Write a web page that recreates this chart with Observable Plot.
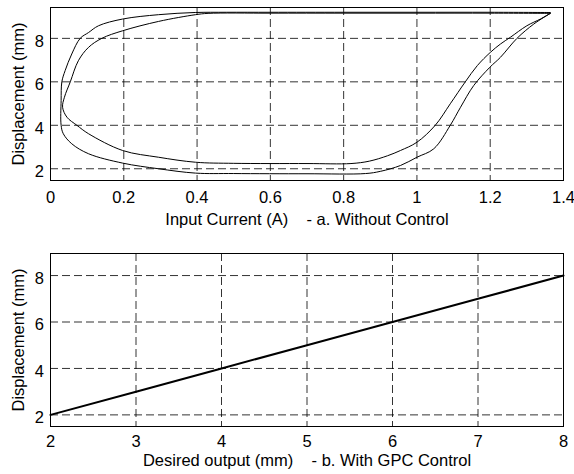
<!DOCTYPE html>
<html><head><meta charset="utf-8">
<script src="https://cdn.jsdelivr.net/npm/d3@7"></script>
<script src="https://cdn.jsdelivr.net/npm/@observablehq/plot@0.6"></script>
<style>
body{margin:0;background:#fff}
#chart svg{display:block}
</style>
</head><body><div id="chart"></div>
<script>
// (a) Without control: two hysteresis cycles
const outerX = [1.364, 1.2, 1.0, 0.8, 0.6, 0.48, 0.395, 0.295, 0.197, 0.131, 0.104, 0.081, 0.058, 0.04, 0.031, 0.029, 0.029, 0.035, 0.058, 0.104, 0.197, 0.295, 0.396, 0.5, 0.7, 0.86, 0.9, 0.955, 1.0, 1.046, 1.091, 1.119, 1.155, 1.199, 1.228, 1.273, 1.319, 1.364];
const outerY = [9.19, 9.2, 9.2, 9.2, 9.2, 9.2, 9.19, 9.09, 8.89, 8.58, 8.27, 8.0, 7.28, 6.52, 6.0, 5.14, 4.0, 3.61, 3.15, 2.69, 2.26, 2.0, 1.8, 1.78, 1.77, 1.78, 1.88, 2.15, 2.53, 2.92, 4.0, 4.83, 5.83, 6.67, 7.13, 8.0, 8.66, 9.15];
const innerX = [1.364, 1.2, 1.0, 0.8, 0.6, 0.43, 0.396, 0.295, 0.197, 0.14, 0.104, 0.076, 0.054, 0.038, 0.033, 0.045, 0.072, 0.104, 0.197, 0.295, 0.396, 0.5, 0.7, 0.82, 0.87, 0.92, 0.955, 1.0, 1.05, 1.091, 1.132, 1.165, 1.2, 1.228, 1.255, 1.30, 1.337, 1.364];
const innerY = [9.15, 9.16, 9.16, 9.16, 9.16, 9.15, 9.09, 8.78, 8.35, 8.0, 7.59, 6.97, 6.0, 5.29, 4.83, 4.37, 4.0, 3.61, 2.84, 2.53, 2.3, 2.25, 2.24, 2.24, 2.35, 2.6, 2.84, 3.22, 4.0, 4.99, 6.0, 6.75, 7.35, 7.74, 8.05, 8.58, 8.89, 9.15];
const topXTicks = [0, 0.2, 0.4, 0.6, 0.8, 1, 1.2, 1.4];
const topXTickLabels = ["0", "0.2", "0.4", "0.6", "0.8", "1", "1.2", "1.4"];
const topYTicks = [2, 4, 6, 8];
const topXLabel = "Input Current (A)\u00a0\u00a0\u00a0\u00a0- a. Without Control";

// (b) With GPC control
const gpcDesired = [2, 3, 4, 5, 6, 7, 8];
const gpcOutput = [2, 3, 4, 5, 6, 7, 8];
const botXTicks = [2, 3, 4, 5, 6, 7, 8];
const botYTicks = [2, 4, 6, 8];
const botXLabel = "Desired output (mm)\u00a0\u00a0\u00a0\u00a0- b. With GPC Control";
const yLabel = "Displacement (mm)";

const loops = [
  ...outerX.map((x, i) => ({x, y: outerY[i], cycle: "a"})),
  ...innerX.map((x, i) => ({x, y: innerY[i], cycle: "b"}))
];
const gpc = gpcDesired.map((x, i) => ({x, y: gpcOutput[i]}));

const font = "'Liberation Sans', Arial, Helvetica, sans-serif";
const style = {fontFamily: font, fontSize: "16.5px", background: "#fff", color: "#000"};
const gridStyle = {stroke: "#000", strokeOpacity: 0.8, strokeWidth: 1, strokeDasharray: "8,4"};

const topPlot = Plot.plot({
  width: 574, height: 240,
  marginLeft: 50, marginRight: 11, marginTop: 7, marginBottom: 60,
  style,
  x: {domain: [0, 1.4]},
  y: {domain: [1.46, 9.42]},
  marks: [
    Plot.gridX(topXTicks, gridStyle),
    Plot.gridY(topYTicks, gridStyle),
    Plot.line(loops, {x: "x", y: "y", z: "cycle", stroke: "#000", strokeWidth: 1, curve: "catmull-rom"}),
    Plot.frame({stroke: "#000", strokeWidth: 1}),
    Plot.axisX(topXTicks, {tickSize: 0, tickPadding: 11, tickFormat: (d, i) => topXTickLabels[i],
      label: topXLabel, labelAnchor: "center", labelArrow: "none", labelOffset: 44}),
    Plot.axisY(topYTicks, {tickSize: 0, tickPadding: 6.5, dy: 3,
      label: yLabel, labelAnchor: "center", labelArrow: "none", labelOffset: 38.5})
  ]
});

const botPlot = Plot.plot({
  width: 574, height: 234,
  marginLeft: 50, marginRight: 11, marginTop: 13, marginBottom: 48,
  style,
  x: {domain: [2, 8]},
  y: {domain: [1.5, 8.95]},
  marks: [
    Plot.gridX(botXTicks, gridStyle),
    Plot.gridY(botYTicks, gridStyle),
    Plot.line(gpc, {x: "x", y: "y", stroke: "#000", strokeWidth: 2}),
    Plot.frame({stroke: "#000", strokeWidth: 1}),
    Plot.axisX(botXTicks, {tickSize: 0, tickPadding: 9, tickFormat: d => String(d),
      label: botXLabel, labelAnchor: "center", labelArrow: "none", labelOffset: 39}),
    Plot.axisY(botYTicks, {tickSize: 0, tickPadding: 6.5, dy: 3, tickFormat: d => String(d),
      label: yLabel, labelAnchor: "center", labelArrow: "none", labelOffset: 38.5})
  ]
});

const chart = document.getElementById("chart");
chart.appendChild(topPlot);
chart.appendChild(botPlot);
</script>
</body></html>
